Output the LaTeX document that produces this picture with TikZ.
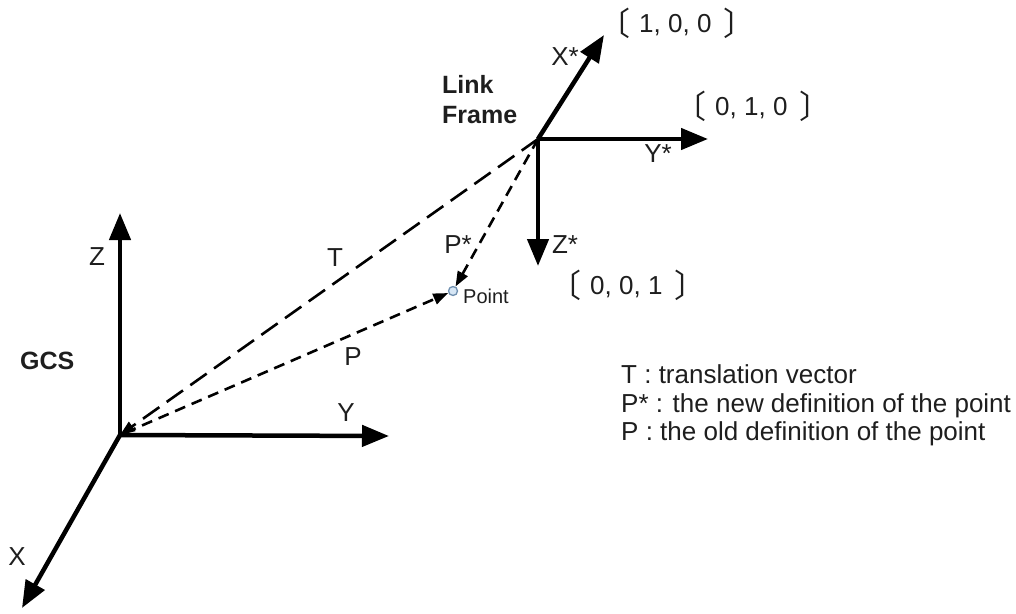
\documentclass[tikz,border=0pt]{standalone}
\usepackage{fontspec}
\setmainfont{Liberation Sans}
\newfontfamily\cjk{Noto Sans CJK SC}
\usetikzlibrary{arrows.meta}
\definecolor{txt}{HTML}{1E1E1E}
\definecolor{ptfill}{HTML}{D6E6F5}
\definecolor{ptedge}{HTML}{6F8FAF}
\newcommand{\lbr}{\raisebox{-3pt}{\fontsize{32}{32}\selectfont\cjk 〔}}
\newcommand{\rbr}{\raisebox{-3pt}{\fontsize{32}{32}\selectfont\cjk 〕}}
\begin{document}
\begin{tikzpicture}[x=1pt,y=-1pt,
  axis/.style={line width=4.5pt, -{Triangle[length=27pt,width=21pt]}},
  vecT/.style={line width=2.6pt, dash pattern=on 20pt off 9pt,
    -{Triangle[length=15pt,width=11pt]}},
  vecP/.style={line width=2.6pt, dash pattern=on 11pt off 7pt,
    -{Triangle[length=15pt,width=11pt]}},
  lbl/.style={font=\fontsize{26}{30}\selectfont, text=txt, inner sep=0pt},
  bold/.style={font=\fontsize{25}{30}\selectfont\bfseries, text=txt, inner sep=0pt},
  small/.style={font=\fontsize{20}{24}\selectfont, text=txt, inner sep=0pt},
  vec/.style={font=\fontsize{26}{30}\selectfont, text=txt, inner sep=0pt, anchor=base west},
]
\useasboundingbox (0,0) rectangle (1016,613);

% global frame
\coordinate (O) at (120,435);
\coordinate (Zt) at (120,213);
\coordinate (Yt) at (389,436);
\coordinate (Xt) at (22,608);
\draw[axis] (O) -- (Zt);
\draw[axis] (O) -- (Yt);
\draw[axis] (O) -- (Xt);
\node[lbl] (zl) at (97,257) {Z};
\node[lbl] (yl) at (346,413) {Y};
\node[lbl] (xl) at (17,557) {X};
\node[bold, anchor=base west] (gcs) at (20,369) {GCS};

% link frame
\coordinate (L) at (538,139);
\coordinate (Xs) at (604,35);
\coordinate (Ys) at (708,139);
\coordinate (Zs) at (538,266);
\draw[axis] (L) -- (Xs);
\draw[axis] (L) -- (Ys);
\draw[axis] (L) -- (Zs);
\node[lbl] (xsl) at (565,57) {X*};
\node[lbl] (ysl) at (658,154) {Y*};
\node[lbl] (zsl) at (565,245) {Z*};
\node[bold, anchor=base west] (lk1) at (442,93) {Link};
\node[bold, anchor=base west] (lk2) at (442,123) {Frame};

% unit vectors of the link frame
\node[vec] (ex) at (598,32) {\lbr\hspace{9pt}1, 0, 0\hspace{12pt}\rbr};
\node[vec] (ey) at (674,115) {\lbr\hspace{9pt}0, 1, 0\hspace{12pt}\rbr};
\node[vec] (ez) at (549,294) {\lbr\hspace{9pt}0, 0, 1\hspace{12pt}\rbr};

% the point and its vectors
\node[circle, draw=ptedge, fill=ptfill, line width=1.3pt, minimum size=9pt,
  inner sep=0pt] (pt) at (453,291) {};
\node[small, anchor=base west] (ptl) at (463,303) {Point};
\draw[vecT] (L) -- (O);
\draw[vecP] (L) -- (pt);
\draw[vecP, shorten <=6pt] (O) -- (pt);
\node[lbl] (tl) at (335,258) {T};
\node[lbl] (pl) at (353,357) {P};
\node[lbl] (psl) at (458,245) {P*};

% legend
\node[vec] (lg1) at (621,383) {T : translation vector};
\node[vec] (lg2) at (621,412) {P* : the new definition of the point};
\node[vec] (lg3) at (621,440) {P : the old definition of the point};
\end{tikzpicture}
\end{document}
